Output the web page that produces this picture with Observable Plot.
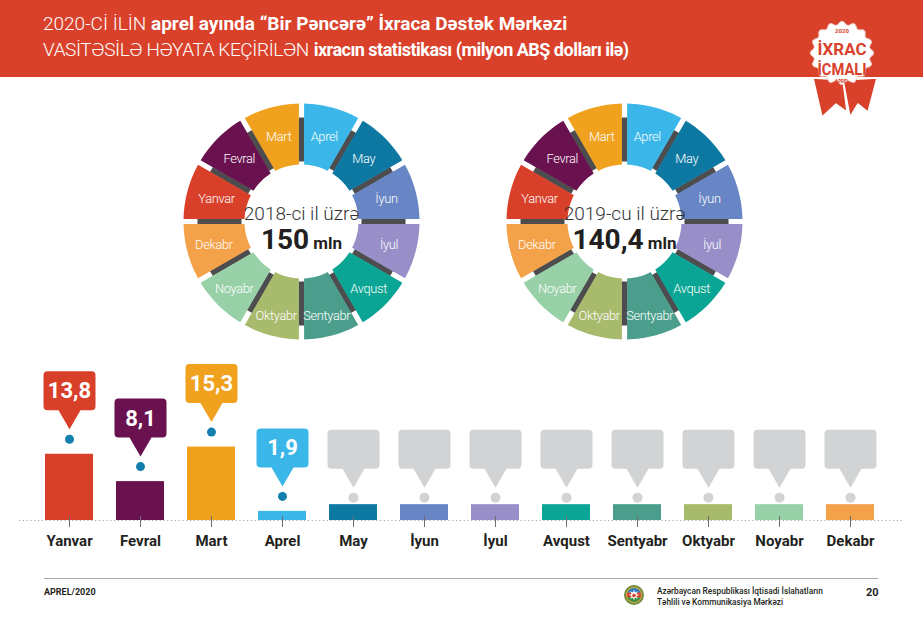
<!DOCTYPE html>
<html lang="az">
<head>
<meta charset="utf-8">
<script src="https://cdn.jsdelivr.net/npm/d3@7"></script>
<script src="https://cdn.jsdelivr.net/npm/@observablehq/plot@0.6"></script>
<style>
  html, body { margin: 0; padding: 0; background: #fff; }
  #page { position: relative; width: 923px; height: 630px; overflow: hidden; font-family: Roboto, "Noto Sans", sans-serif; }
  #header { position: absolute; left: 0; top: 0; width: 923px; height: 77px; background: #d9412b; }
  #title { position: absolute; left: 43px; top: 11px; color: #fff; font-size: 19px; line-height: 26px; white-space: nowrap; }
  #title .lt { font-weight: 300; }
  #title b { font-weight: 700; }
  #title .l2 .lt { letter-spacing: -0.4px; }
  #title .l2 b { font-size: 18px; letter-spacing: -0.5px; }
  #badge { position: absolute; left: 800px; top: 10px; }
  .donut { position: absolute; top: 101px; }
  .donut .month-label text { letter-spacing: -0.3px; }
  #donut2018 { left: 181px; }
  #donut2019 { left: 504px; }
  #bars { position: absolute; left: 0; top: 350px; }
  #footer-rule { position: absolute; left: 44px; top: 578px; width: 834px; height: 1px; background: #a7a9ac; }
  #footer-left { position: absolute; left: 44px; top: 587px; font-size: 9px; font-weight: 700; color: #231f20; }
  #footer-page { position: absolute; left: 866px; top: 586px; font-size: 11px; font-weight: 700; color: #231f20; }
  #footer-org { position: absolute; left: 657px; top: 586px; font-size: 8.3px; line-height: 10.5px; color: #231f20; font-weight: 500; }
  #emblem { position: absolute; left: 623px; top: 583px; }
</style>
</head>
<body>
<div id="page">
  <div id="header"></div>
  <div id="title">
    <div><span class="lt">2020-Cİ İLİN</span> <b>aprel ayında “Bir Pəncərə” İxraca Dəstək Mərkəzi</b></div>
    <div class="l2"><span class="lt">VASİTƏSİLƏ HƏYATA KEÇİRİLƏN</span> <b>ixracın statistikası (milyon ABŞ dolları ilə)</b></div>
  </div>
  <div id="badge"></div>
  <div id="donut2018" class="donut"></div>
  <div id="donut2019" class="donut"></div>
  <div id="bars"></div>
  <div id="footer-rule"></div>
  <div id="footer-left">APREL/2020</div>
  <div id="emblem"></div>
  <div id="footer-org">Azərbaycan Respublikası İqtisadi İslahatların<br>Təhlili və Kommunikasiya Mərkəzi</div>
  <div id="footer-page">20</div>
</div>
<script>
// Months of the year and their colours (shared by both rings and the bar chart)
const months = ["Yanvar", "Fevral", "Mart", "Aprel", "May", "İyun", "İyul", "Avqust", "Sentyabr", "Oktyabr", "Noyabr", "Dekabr"];
const monthColors = ["#d9402a", "#6a1150", "#f0a21f", "#3ab7e8", "#0d79a3", "#6885c5", "#988fc8", "#0aa594", "#4b9e8b", "#a8ba6c", "#98d1a8", "#f4a24a"];

// Annual totals, million USD
const yearLabels = ["2018-ci il üzrə", "2019-cu il üzrə"];
const yearTotals = ["150", "140,4"];

// 2020 monthly exports, million USD (null = not yet reported)
const exports2020 = [13.8, 8.1, 15.3, 1.9, null, null, null, null, null, null, null, null];
// height of the placeholder stub drawn for months without data
const stubHeight = 3.3;

const fontFamily = "Roboto, 'Noto Sans', sans-serif";
const color = {domain: months, range: monthColors};

// ---------- ring of months ----------
function ring(target, yearLabel, total) {
  const R0 = 57, R1 = 118, halfGap = 2.6, n = 16;
  const polys = [], seps = [], labels = [];
  months.forEach((m, i) => {
    const k = (i + 9) % 12; // Aprel starts at 12 o'clock
    const a0 = k * Math.PI / 6, a1 = a0 + Math.PI / 6;
    const o0 = a0 + halfGap / R1, o1 = a1 - halfGap / R1;
    const i0 = a0 + halfGap / R0, i1 = a1 - halfGap / R0;
    for (let j = 0; j <= n; j++) {
      const a = o0 + (o1 - o0) * j / n;
      polys.push({month: m, x: R1 * Math.sin(a), y: -R1 * Math.cos(a)});
    }
    for (let j = n; j >= 0; j--) {
      const a = i0 + (i1 - i0) * j / n;
      polys.push({month: m, x: R0 * Math.sin(a), y: -R0 * Math.cos(a)});
    }
    seps.push({x1: 60 * Math.sin(a0), y1: -60 * Math.cos(a0), x2: 104 * Math.sin(a0), y2: -104 * Math.cos(a0)});
    // labels sit a little further out on the lower half of the ring
    const am = a0 + Math.PI / 12, rl = 88 + Math.max(0, -Math.cos(am)) * 10;
    labels.push({month: m, x: rl * Math.sin(am), y: -rl * Math.cos(am)});
  });

  const svg = Plot.plot({
    width: 240, height: 240, margin: 0,
    x: {domain: [-120, 120], axis: null},
    y: {domain: [-120, 120], range: [0, 240], axis: null},
    color,
    style: {fontFamily, background: "none", overflow: "visible"},
    marks: [
      Plot.link(seps, {x1: "x1", y1: "y1", x2: "x2", y2: "y2", stroke: "#4d4d4f", strokeWidth: 6, strokeLinecap: "butt"}),
      Plot.line(polys, {x: "x", y: "y", z: "month", fill: "month", stroke: "none"}),
      Plot.text(labels, {x: "x", y: "y", text: "month", fill: "white", fontSize: 12.8, fontWeight: 300, className: "month-label"}),
      Plot.text([yearLabel], {x: () => 0, y: () => -8, text: d => d, fill: "#333", fontSize: 19, fontWeight: 300}),
      Plot.text([total + " mln"], {x: () => 0, y: () => 19, text: d => d, fill: "#231f20", fontWeight: 700, fontSize: 28})
    ]
  });
  // smaller unit after the bold total
  d3.select(svg).selectAll("text").filter(function () { return this.textContent === total + " mln"; })
    .each(function () {
      const t = d3.select(this);
      t.text(null);
      t.append("tspan").text(total);
      t.append("tspan").attr("font-size", 17).text(" mln");
    });
  document.getElementById(target).append(svg);
}
ring("donut2018", yearLabels[0], yearTotals[0]);
ring("donut2019", yearLabels[1], yearTotals[1]);

// ---------- monthly bars ----------
const rows = months.map((m, i) => ({month: m, value: exports2020[i]}));
const reported = rows.filter(d => d.value != null);
const pending = rows.filter(d => d.value == null);

// speech-bubble symbol, tip at the origin
const bubble = {
  draw(ctx) {
    const w = 26, hb = 19, ht = 58, p = 11, r = 4;
    ctx.moveTo(0, 0);
    ctx.lineTo(p, -hb);
    ctx.arcTo(w, -hb, w, -ht, r);
    ctx.arcTo(w, -ht, -w, -ht, r);
    ctx.arcTo(-w, -ht, -w, -hb, r);
    ctx.arcTo(-w, -hb, -p, -hb, r);
    ctx.lineTo(-p, -hb);
    ctx.closePath();
  }
};

const bars = Plot.plot({
  width: 923, height: 210,
  marginLeft: 29, marginRight: 33, marginTop: 0, marginBottom: 40,
  x: {domain: months, paddingInner: 0.33, paddingOuter: 0.165, axis: null},
  y: {domain: [0, 16], range: [170, 93.2], axis: null},
  color,
  style: {fontFamily, background: "none", overflow: "visible"},
  marks: [
    Plot.ruleY([0], {stroke: "#a7a9ac", strokeDasharray: "1.2,2.6", insetLeft: -10, insetRight: -14}),
    Plot.barY(reported, {x: "month", y: "value", fill: "month"}),
    Plot.barY(pending, {x: "month", y: () => stubHeight, fill: "month"}),
    Plot.ruleX(months, {x: d => d, y1: () => 0, y2: () => 0, insetTop: -4, insetBottom: -7, stroke: "#6d6e71", strokeWidth: 1}),
    // reported months
    Plot.dot(reported, {x: "month", y: "value", dy: -15, r: 4.5, fill: "#127fae"}),
    Plot.dot(reported, {x: "month", y: "value", dy: -25, r: 1, symbol: bubble, fill: "month", stroke: "none"}),
    Plot.text(reported, {x: "month", y: "value", dy: -63, text: d => String(d.value).replace(".", ","), fill: "white", fontSize: 22, fontWeight: 700}),
    // months still to come
    Plot.dot(pending, {x: "month", y: () => stubHeight, dy: -7, r: 5, fill: "#d1d3d4"}),
    Plot.dot(pending, {x: "month", y: () => stubHeight, dy: -17, r: 1, symbol: bubble, fill: "#d1d3d4", stroke: "none"}),
    // month names
    Plot.text(months, {x: d => d, y: () => 0, dy: 21, text: d => d, fill: "#231f20", fontSize: 15, fontWeight: 700})
  ]
});
document.getElementById("bars").append(bars);

// ---------- badge ----------
(function () {
  const s = d3.select("#badge").append("svg").attr("width", 100).attr("height", 115);
  const cx = 42, cy = 43;
  const red = "#d9412b";
  // ribbon tails
  s.append("polygon").attr("points", "13,68 43,70 47,102 36,94 22,107").attr("fill", red).attr("stroke", "#fff").attr("stroke-width", 1.5).attr("stroke-linejoin", "round");
  s.append("polygon").attr("points", "43,70 77,68 68,102 58,94 50,107").attr("fill", red).attr("stroke", "#fff").attr("stroke-width", 1.5).attr("stroke-linejoin", "round");
  // scalloped seal
  const pts = d3.range(0, 361, 3).map(a => {
    const t = a * Math.PI / 180, r = 30 + 1.8 * Math.cos(t * 16);
    return [cx + r * Math.sin(t), cy - r * Math.cos(t)];
  });
  s.append("path").attr("d", d3.line()(pts) + "Z").attr("fill", "#fff").attr("stroke", "#f1c7bf").attr("stroke-width", 1);
  const txt = (y, str, size, w, len) => {
    const t = s.append("text").attr("x", cx).attr("y", y).attr("text-anchor", "middle")
      .attr("font-family", fontFamily).attr("font-size", size).attr("font-weight", w).attr("fill", red).text(str);
    if (len) t.attr("textLength", len).attr("lengthAdjust", "spacingAndGlyphs");
  };
  txt(23, "2020", 6, 700);
  txt(45, "İXRAC", 16.5, 700, 49);
  txt(64.5, "İCMALI", 16.5, 700, 49);
  txt(73, "APREL", 4.5, 700);
})();

// ---------- emblem ----------
(function () {
  const s = d3.select("#emblem").append("svg").attr("width", 22).attr("height", 24);
  const cx = 11, cy = 12;
  s.append("circle").attr("cx", cx).attr("cy", cy).attr("r", 10).attr("fill", "#6f8b3b");
  s.append("circle").attr("cx", cx).attr("cy", cy).attr("r", 8.2).attr("fill", "#c9a94a");
  const clip = s.append("clipPath").attr("id", "emb-clip");
  clip.append("circle").attr("cx", cx).attr("cy", cy).attr("r", 7);
  const g = s.append("g").attr("clip-path", "url(#emb-clip)");
  g.append("rect").attr("x", 0).attr("y", 0).attr("width", 22).attr("height", 9.7).attr("fill", "#2f7bbf");
  g.append("rect").attr("x", 0).attr("y", 9.7).attr("width", 22).attr("height", 4.6).attr("fill", "#d9412b");
  g.append("rect").attr("x", 0).attr("y", 14.3).attr("width", 22).attr("height", 10).attr("fill", "#3c8f45");
  const star = d3.range(16).map(i => {
    const a = i * Math.PI / 8, r = i % 2 ? 2.6 : 5.2;
    return [cx + r * Math.sin(a), cy - r * Math.cos(a)];
  });
  s.append("path").attr("d", d3.line()(star) + "Z").attr("fill", "#fff");
  s.append("circle").attr("cx", cx).attr("cy", cy + 0.5).attr("r", 1.8).attr("fill", "#d9412b");
})();
</script>
</body>
</html>
